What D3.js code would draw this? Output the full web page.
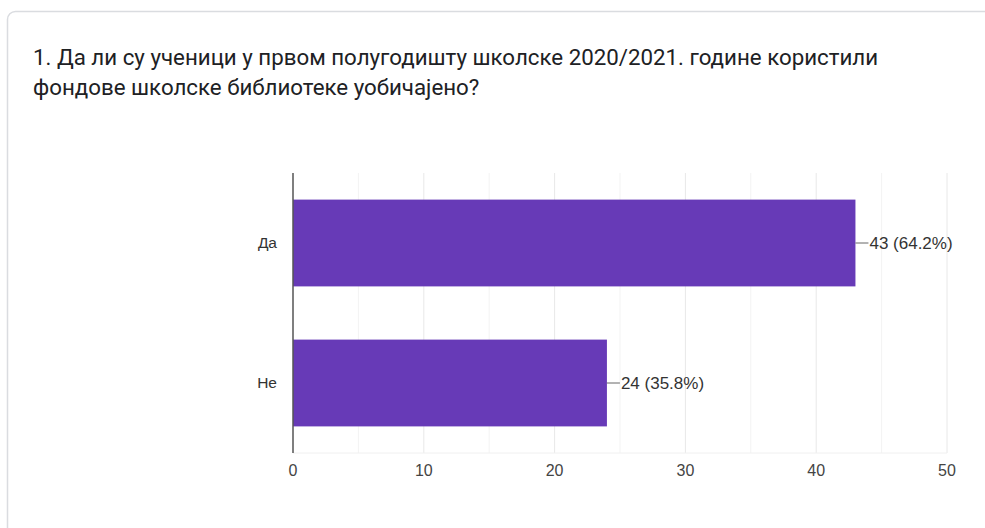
<!DOCTYPE html>
<html>
<meta charset="utf-8">
<script src="https://d3js.org/d3.v7.min.js"></script>
<style>
  body { margin: 0; background: #fff; font-family: Roboto, Arial, sans-serif; }
</style>
<body>
<div id="my_dataviz"></div>
<script>
  // data
  var categories = ["Да", "Не"];
  var counts = [43, 24];
  var percents = ["64.2%", "35.8%"];
  var xTicks = [0, 10, 20, 30, 40, 50];
  var gridTicks = [5, 10, 15, 20, 25, 30, 35, 40, 45, 50];

  var W = 985, H = 528;
  var margin = {top: 173, left: 293, right: 38, bottom: 75};
  var width = W - margin.left - margin.right,
      height = H - margin.top - margin.bottom;
  var labelFont = "'Liberation Sans', Arial, sans-serif";

  var svg = d3.select("#my_dataviz")
    .append("svg")
      .attr("width", W)
      .attr("height", H);

  // card
  svg.append("rect")
    .attr("x", 7.5).attr("y", 11.5)
    .attr("width", W + 20).attr("height", H + 20)
    .attr("rx", 8)
    .attr("fill", "#fff")
    .attr("stroke", "#dadce0")
    .attr("stroke-width", 1.5);

  // title
  var title = svg.append("text")
    .style("font-size", "22.3px")
    .style("fill", "#202124");
  title.append("tspan").attr("x", 33).attr("y", 65)
    .text("1. Да ли су ученици у првом полугодишту школске 2020/2021. године користили");
  title.append("tspan").attr("x", 33).attr("y", 95)
    .text("фондове школске библиотеке уобичајено?");

  var g = svg.append("g")
    .attr("transform", "translate(" + margin.left + "," + margin.top + ")");

  var x = d3.scaleLinear()
    .domain([0, 50])
    .range([0, width]);

  var y = d3.scaleBand()
    .domain(categories)
    .range([0, height])
    .paddingInner(0.38)
    .paddingOuter(0.19);

  // grid
  g.selectAll("line.grid")
    .data(gridTicks)
    .enter().append("line")
      .attr("class", "grid")
      .attr("x1", function(d) { return x(d); })
      .attr("x2", function(d) { return x(d); })
      .attr("y1", 0)
      .attr("y2", height)
      .attr("stroke", function(d) { return d % 10 === 0 ? "#e8e8e8" : "#f3f3f3"; })
      .attr("stroke-width", 1);

  g.append("line")
    .attr("x1", 0).attr("x2", width)
    .attr("y1", height).attr("y2", height)
    .attr("stroke", "#f0f0f0");

  // x axis labels
  g.selectAll("text.xtick")
    .data(xTicks)
    .enter().append("text")
      .attr("class", "xtick")
      .attr("x", function(d) { return x(d); })
      .attr("y", height + 23)
      .attr("text-anchor", "middle")
      .style("font-family", labelFont)
      .style("font-size", "16px")
      .style("fill", "#444")
      .text(function(d) { return d; });

  // bars
  g.selectAll("rect.bar")
    .data(categories)
    .enter().append("rect")
      .attr("class", "bar")
      .attr("x", 0)
      .attr("y", function(d) { return y(d); })
      .attr("width", function(d, i) { return x(counts[i]); })
      .attr("height", y.bandwidth())
      .attr("fill", "#673ab7");

  // category labels
  g.selectAll("text.cat")
    .data(categories)
    .enter().append("text")
      .attr("class", "cat")
      .attr("x", -16)
      .attr("y", function(d) { return y(d) + y.bandwidth() / 2; })
      .attr("dy", "0.35em")
      .attr("text-anchor", "end")
      .style("font-family", labelFont)
      .style("font-size", "15.5px")
      .style("fill", "#333")
      .text(function(d) { return d; });

  // value label leader lines and text
  g.selectAll("line.lead")
    .data(categories)
    .enter().append("line")
      .attr("class", "lead")
      .attr("x1", function(d, i) { return x(counts[i]); })
      .attr("x2", function(d, i) { return x(counts[i]) + 13; })
      .attr("y1", function(d) { return y(d) + y.bandwidth() / 2; })
      .attr("y2", function(d) { return y(d) + y.bandwidth() / 2; })
      .attr("stroke", "#666")
      .attr("stroke-width", 1);

  g.selectAll("text.val")
    .data(categories)
    .enter().append("text")
      .attr("class", "val")
      .attr("x", function(d, i) { return x(counts[i]) + 14; })
      .attr("y", function(d) { return y(d) + y.bandwidth() / 2; })
      .attr("dy", "0.35em")
      .style("font-family", labelFont)
      .style("font-size", "17px")
      .style("fill", "#333")
      .text(function(d, i) { return counts[i] + " (" + percents[i] + ")"; });

  // y axis line
  g.append("line")
    .attr("x1", 0).attr("x2", 0)
    .attr("y1", 0).attr("y2", height)
    .attr("stroke", "#555")
    .attr("stroke-width", 1.5);
</script>
</body>
</html>
